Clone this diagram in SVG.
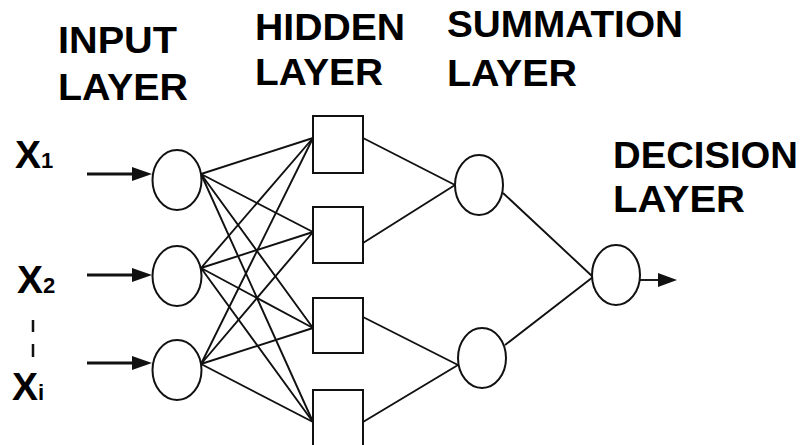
<svg xmlns="http://www.w3.org/2000/svg" width="805" height="445" viewBox="0 0 805 445">
<style>
.lbl{font-family:"Liberation Sans",Arial,sans-serif;font-weight:bold;font-size:37px;fill:#000}
.x{font-family:"Liberation Sans",Arial,sans-serif;font-weight:bold;font-size:39px;fill:#000}
.sub{font-size:22px}
.node{fill:#fff;stroke:#111;stroke-width:2}
.c{stroke:#111;stroke-width:1.9;fill:none}
.in{stroke:#111;stroke-width:3;fill:none}
</style>
<rect width="805" height="445" fill="#fff"/>
<g id="labels">
<text class="lbl" x="58" y="53" textLength="119" lengthAdjust="spacingAndGlyphs">INPUT</text>
<text class="lbl" x="58" y="100" textLength="130" lengthAdjust="spacingAndGlyphs">LAYER</text>
<text class="lbl" x="255" y="40" textLength="150" lengthAdjust="spacingAndGlyphs">HIDDEN</text>
<text class="lbl" x="255" y="85" textLength="128" lengthAdjust="spacingAndGlyphs">LAYER</text>
<text class="lbl" x="447" y="37" textLength="236" lengthAdjust="spacingAndGlyphs">SUMMATION</text>
<text class="lbl" x="447" y="86" textLength="130" lengthAdjust="spacingAndGlyphs">LAYER</text>
<text class="lbl" x="613" y="168" textLength="185" lengthAdjust="spacingAndGlyphs">DECISION</text>
<text class="lbl" x="613" y="212" textLength="132" lengthAdjust="spacingAndGlyphs">LAYER</text>
<text class="x" x="15" y="168">X<tspan class="sub">1</tspan></text>
<text class="x" x="17" y="293">X<tspan class="sub">2</tspan></text>
<text class="x" x="12" y="400">X<tspan class="sub">i</tspan></text>
<path d="M33 320V332M33 344V357" stroke="#111" stroke-width="2.5"/>
</g>
<g id="connectors">
<path class="in" d="M87 174H134M87 275H134M87 363H134"/>
<polygon points="132,167 152,174 132,181" fill="#111"/>
<polygon points="132,268 152,275 132,282" fill="#111"/>
<polygon points="132,356 152,363 132,370" fill="#111"/>
<path class="c" d="M201 174L313 138M201 174L313 232M201 174L313 328M201 174L313 422"/>
<path class="c" d="M201 268L313 138M201 268L313 232M201 268L313 328M201 268L313 422"/>
<path class="c" d="M201 364L313 138M201 364L313 232M201 364L313 328M201 364L313 422"/>
<path class="c" d="M363 138L455 185M363 243L455 185M363 317L458 365M363 422L458 365"/>
<path class="c" d="M503 193L593 277M505 345L593 277"/>
<path class="c" d="M640 280H660"/>
<polygon points="658,273 677,280 658,287" fill="#111"/>
</g>
<g id="input1"><ellipse class="node" cx="177" cy="180" rx="24.5" ry="30"/></g>
<g id="input2"><ellipse class="node" cx="177" cy="276" rx="24.5" ry="30"/></g>
<g id="input3"><ellipse class="node" cx="177" cy="370" rx="24.5" ry="30"/></g>
<g id="hidden1"><rect class="node" x="313" y="116" width="50" height="57"/></g>
<g id="hidden2"><rect class="node" x="313" y="207" width="50" height="56"/></g>
<g id="hidden3"><rect class="node" x="313" y="298" width="50" height="55"/></g>
<g id="hidden4"><rect class="node" x="313" y="390" width="50" height="56"/></g>
<g id="sum1"><ellipse class="node" cx="479" cy="185" rx="24" ry="30"/></g>
<g id="sum2"><ellipse class="node" cx="482" cy="358" rx="24" ry="30"/></g>
<g id="decision"><ellipse class="node" cx="616" cy="275" rx="24" ry="30"/></g>
</svg>
